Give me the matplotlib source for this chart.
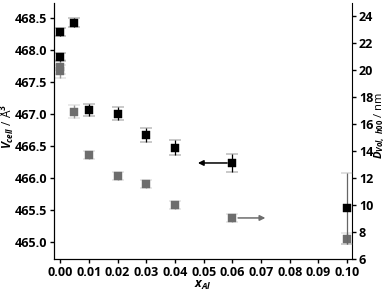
import numpy as np
import matplotlib
matplotlib.use("Agg")
import matplotlib.pyplot as plt

# cell volume (left axis, black squares)
x_v = [0.0, 0.0, 0.005, 0.01, 0.02, 0.03, 0.04, 0.06]
v_cell = [468.28, 467.89, 468.42, 467.06, 467.00, 466.66, 466.47, 466.23]
v_err = [0.065, 0.06, 0.07, 0.09, 0.10, 0.11, 0.12, 0.14]
# last sample, drawn with a grey error bar in the original
x_v_last = [0.10]
v_last = [465.52]
v_last_err = [0.56]

# crystallite size (right axis, grey squares)
x_d = [0.0, 0.0, 0.005, 0.01, 0.02, 0.03, 0.04, 0.06, 0.10]
d_vol = [20.2, 19.9, 16.9, 13.7, 12.15, 11.55, 10.0, 9.04, 7.5]
d_err = [0.5, 0.5, 0.48, 0.27, 0.27, 0.27, 0.27, 0.27, 0.4]

x_ticks = [0.00, 0.01, 0.02, 0.03, 0.04, 0.05, 0.06, 0.07, 0.08, 0.09, 0.10]
v_ticks = [465.0, 465.5, 466.0, 466.5, 467.0, 467.5, 468.0, 468.5]
d_ticks = [6, 8, 10, 12, 14, 16, 18, 20, 22, 24]

plt.rcParams['font.family'] = 'Open Sans'
plt.rcParams['font.weight'] = 'bold'
plt.rcParams['font.size'] = 9
plt.rcParams['mathtext.fontset'] = 'custom'
plt.rcParams['mathtext.rm'] = 'Open Sans:bold'
plt.rcParams['mathtext.it'] = 'Open Sans:italic:bold'

fig, ax = plt.subplots(figsize=(3.89, 2.93), dpi=100)
fig.subplots_adjust(left=0.139, right=0.905, bottom=0.116, top=0.99)
ax2 = ax.twinx()

grey = '#6d6d6d'
ax2.errorbar(x_d, d_vol, yerr=d_err, fmt='s', color=grey, ecolor='#999999',
             markersize=5.7, markeredgewidth=0.3, capsize=4.3,
             elinewidth=1.0, capthick=1.3)
ax.errorbar(x_v, v_cell, yerr=v_err, fmt='s', color='black', ecolor='black',
            markersize=5.7, markeredgewidth=0.3, capsize=4.3,
            elinewidth=0.9, capthick=1.1, zorder=3)
ax.errorbar(x_v_last, v_last, yerr=v_last_err, fmt='s', color='black',
            ecolor='#666666', markersize=5.7, markeredgewidth=0.3, capsize=4.3,
            elinewidth=0.9, capthick=1.1, zorder=3)
ax.set_zorder(ax2.get_zorder() + 1)
ax.patch.set_visible(False)

# arrows pointing to the matching axis
ax.annotate('', xy=(0.048, v_cell[-1]), xytext=(0.0582, v_cell[-1]),
            arrowprops=dict(arrowstyle='-|>', color='black', lw=1.1,
                            shrinkA=0, shrinkB=0, mutation_scale=8))
ax2.annotate('', xy=(0.0715, d_vol[-2]), xytext=(0.062, d_vol[-2]),
             arrowprops=dict(arrowstyle='-|>', color=grey, lw=1.1,
                             shrinkA=0, shrinkB=0, mutation_scale=8))

ax.set_xlim(-0.0021, 0.1017)
ax.set_ylim(464.73, 468.73)
ax2.set_ylim(6, 24.96)
ax.set_xticks(x_ticks)
ax.set_xticklabels(['%.2f' % t for t in x_ticks])
ax.set_yticks(v_ticks)
ax.set_yticklabels(['%.1f' % t for t in v_ticks])
ax2.set_yticks(d_ticks)

for a in (ax, ax2):
    a.spines['top'].set_visible(False)
    a.tick_params(direction='out', length=3, width=1, pad=2)
ax.spines['right'].set_visible(False)

ax.set_xlabel(r'$x_{Al}$', labelpad=0)
ax.set_ylabel(r'$V_{cell}$ / Å$^3$', fontsize=8.5)
ax.yaxis.set_label_coords(-0.127, 0.516)
ax2.set_ylabel(r'$D_{Vol,\ h00}$ / nm', fontsize=8)
ax2.yaxis.set_label_coords(1.07, 0.523)

fig.savefig('out.png', dpi=100)
